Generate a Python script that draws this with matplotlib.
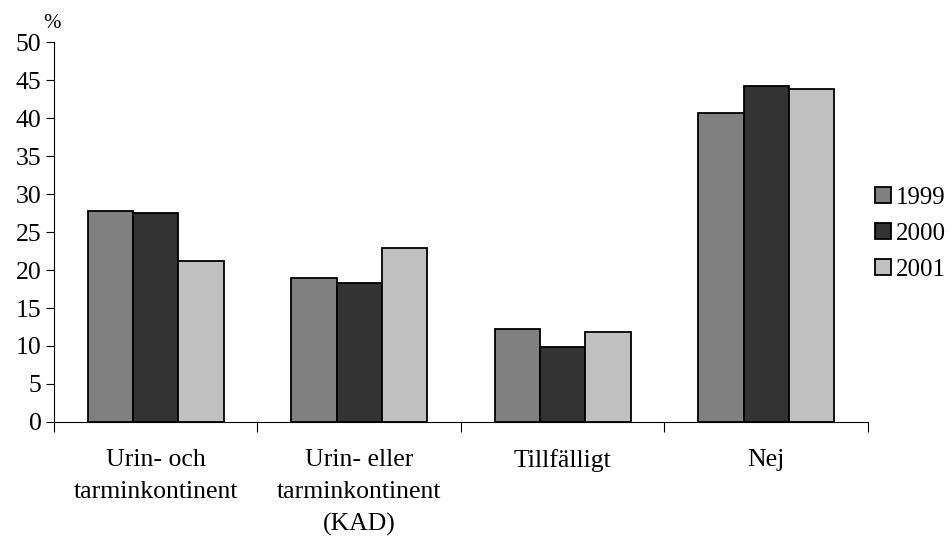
import matplotlib
matplotlib.use("Agg")
import matplotlib.pyplot as plt
import numpy as np

categories = ["Urin- och\ntarminkontinent", "Urin- eller\ntarminkontinent\n(KAD)", "Tillfälligt", "Nej"]
years = ["1999", "2000", "2001"]
values_1999 = [27.8, 19.0, 12.2, 40.7]
values_2000 = [27.5, 18.3, 9.9, 44.2]
values_2001 = [21.2, 22.9, 11.9, 43.8]
colors = ["#808080", "#333333", "#c0c0c0"]
y_ticks = [0, 5, 10, 15, 20, 25, 30, 35, 40, 45, 50]

plt.rcParams["font.family"] = ["Liberation Serif", "DejaVu Serif"]
FS = 18.5

fig = plt.figure(figsize=(9.52, 5.36), dpi=100)
ax = fig.add_axes([0.0567, 0.2127, 0.855, 0.7089])

x = np.arange(len(categories))
width = 1 / 4.5
series = [values_1999, values_2000, values_2001]
for i, (vals, col, lab) in enumerate(zip(series, colors, years)):
    ax.bar(x + (i - 1) * width, vals, width, color=col, edgecolor="black",
           linewidth=1.3, label=lab, zorder=3)

ax.set_xlim(-0.5, len(categories) - 0.5)
ax.set_ylim(0, 50)
ax.set_yticks(y_ticks)
ax.tick_params(axis="y", labelsize=FS, length=6, width=0.8, pad=3)

# category boundaries carry the tick marks; labels sit at centers
ax.set_xticks(np.arange(len(categories) + 1) - 0.5)
ax.set_xticklabels([])
ax.tick_params(axis="x", length=7, width=0.8)
for xi, lab in zip(x, categories):
    ax.text(xi, -3.6, lab, ha="center", va="top", fontsize=FS,
            linespacing=1.56, transform=ax.transData)

for s in ["top", "right"]:
    ax.spines[s].set_visible(False)
for s in ["left", "bottom"]:
    ax.spines[s].set_linewidth(0.8)

fig.text(52 / 952, 1 - 23 / 536, "%", ha="center", va="center", fontsize=15)

leg = ax.legend(loc="center left", bbox_to_anchor=(1.009, 0.495), frameon=False,
                fontsize=18, handlelength=0.62, handleheight=0.62,
                handletextpad=0.2, labelspacing=0.55, borderaxespad=0,
                borderpad=0)

fig.savefig("out.png", dpi=100)
